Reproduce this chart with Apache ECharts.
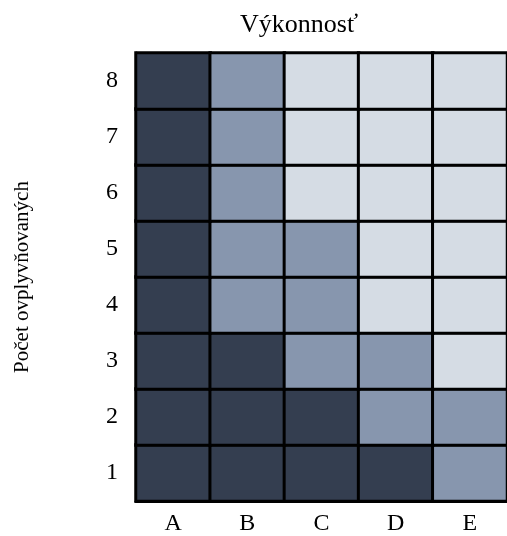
<!DOCTYPE html>
<html>
<head>
<meta charset="utf-8">
<script src="https://cdn.jsdelivr.net/npm/echarts@6/dist/echarts.min.js"></script>
<style>
  html, body { margin: 0; padding: 0; background: #fff; }
  #chart { width: 507px; height: 536px; }
</style>
</head>
<body>
<div id="chart"></div>
<script>
// kategórie a hodnoty (0 = tmavá, 1 = stredná, 2 = svetlá)
const columns = ["A", "B", "C", "D", "E"];
const rows = ["1", "2", "3", "4", "5", "6", "7", "8"];
const levels = [
  [0, 0, 0, 0, 1], // 1
  [0, 0, 0, 1, 1], // 2
  [0, 0, 1, 1, 2], // 3
  [0, 1, 1, 2, 2], // 4
  [0, 1, 1, 2, 2], // 5
  [0, 1, 2, 2, 2], // 6
  [0, 1, 2, 2, 2], // 7
  [0, 1, 2, 2, 2]  // 8
];
const palette = ["#343e50", "#8796ae", "#d5dce4"];

const font = "'Liberation Serif', 'Times New Roman', serif";

let cells = [];
levels.forEach((row, r) => {
  row.forEach((v, c) => cells.push([c, r, v]));
});

const chart = echarts.init(document.getElementById("chart"));
chart.setOption({
  animation: false,
  title: {
    text: "Výkonnosť",
    left: 235,
    top: 7,
    textStyle: { fontFamily: font, fontWeight: "normal", fontSize: 26, color: "#000" }
  },
  grid: { left: 136, top: 53, width: 378, height: 451 },
  xAxis: {
    type: "category",
    data: columns,
    axisLine: { lineStyle: { color: "#000", width: 3 } },
    axisTick: { show: false },
    axisLabel: { fontFamily: font, fontSize: 24, color: "#000", margin: 11 },
    splitArea: { show: false }
  },
  yAxis: {
    type: "category",
    data: rows,
    name: "Počet ovplyvňovaných",
    nameLocation: "middle",
    nameGap: 103,
    nameTextStyle: { fontFamily: font, fontSize: 21, color: "#000" },
    axisLine: { lineStyle: { color: "#000", width: 3 } },
    axisTick: { show: false },
    axisLabel: { fontFamily: font, fontSize: 24, color: "#000", margin: 18 }
  },
  visualMap: {
    show: false,
    type: "piecewise",
    dimension: 2,
    pieces: [
      { value: 0, color: palette[0] },
      { value: 1, color: palette[1] },
      { value: 2, color: palette[2] }
    ]
  },
  series: [{
    type: "heatmap",
    data: cells,
    itemStyle: { borderColor: "#000", borderWidth: 3 },
    emphasis: { disabled: true }
  }]
});
</script>
</body>
</html>
